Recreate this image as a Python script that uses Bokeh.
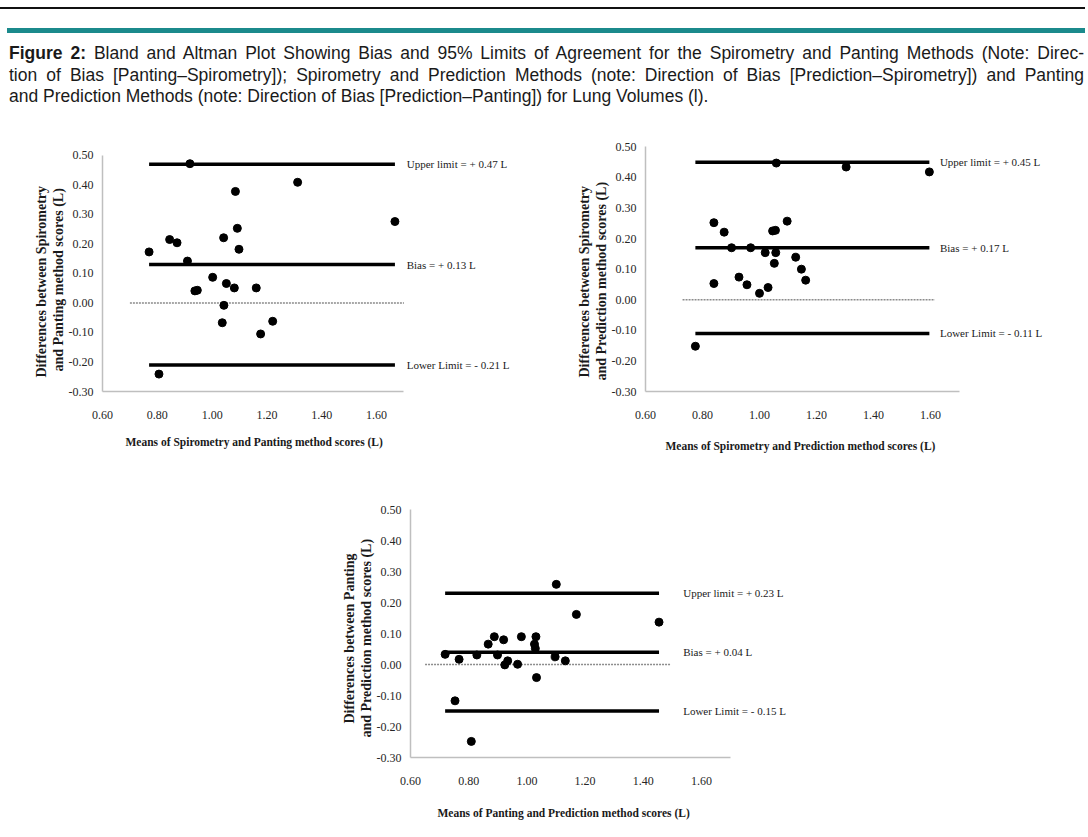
from bokeh.plotting import figure
from bokeh.layouts import column, row
from bokeh.models import (Range1d, FixedTicker, NumeralTickFormatter, ColumnDataSource, Div,
                          Spacer, Title)
from bokeh.core.properties import value
from bokeh.embed import file_html
from bokeh.resources import INLINE

# ---------------- data ----------------
x_ticks = [0.6, 0.8, 1.0, 1.2, 1.4, 1.6]
y_ticks = [-0.3, -0.2, -0.1, 0.0, 0.1, 0.2, 0.3, 0.4, 0.5]

# Spirometry vs Panting
sp_pan_mean = [0.77, 0.845, 0.872, 0.91, 0.919, 0.937, 0.946, 1.002, 1.042, 1.043, 1.037,
               1.052, 1.081, 1.085, 1.092, 1.098, 1.161, 1.177, 1.221, 1.312, 1.667, 0.806]
sp_pan_diff = [0.173, 0.215, 0.204, 0.142, 0.472, 0.041, 0.043, 0.087, 0.221, -0.008, -0.067,
               0.066, 0.051, 0.378, 0.253, 0.182, 0.051, -0.105, -0.062, 0.409, 0.276, -0.241]
sp_pan_bias, sp_pan_upper, sp_pan_lower = 0.13, 0.47, -0.21

# Spirometry vs Prediction
sp_pre_mean = [0.84, 0.876, 0.902, 0.969, 0.84, 0.928, 0.956, 1.0, 1.02, 1.03, 1.046,
               1.056, 1.057, 1.052, 1.059, 1.097, 1.127, 1.147, 1.162, 1.304, 1.596, 0.775]
sp_pre_diff = [0.252, 0.221, 0.17, 0.17, 0.053, 0.074, 0.049, 0.021, 0.154, 0.04, 0.225,
               0.227, 0.154, 0.119, 0.447, 0.257, 0.139, 0.1, 0.064, 0.434, 0.418, -0.152]
sp_pre_bias, sp_pre_upper, sp_pre_lower = 0.17, 0.45, -0.11

# Panting vs Prediction
pan_pre_mean = [0.719, 0.767, 0.828, 0.867, 0.888, 0.899, 0.92, 0.924, 0.934, 0.968, 0.981,
                1.031, 1.026, 1.029, 1.033, 1.097, 1.132, 0.753, 1.101, 1.17, 1.454, 0.809]
pan_pre_diff = [0.033, 0.017, 0.031, 0.066, 0.09, 0.031, 0.08, -0.001, 0.012, 0.001, 0.09,
                0.09, 0.066, 0.052, -0.042, 0.025, 0.012, -0.117, 0.259, 0.162, 0.137, -0.248]
pan_pre_bias, pan_pre_upper, pan_pre_lower = 0.04, 0.23, -0.15

caption_lines = [
    "Bland and Altman Plot Showing Bias and 95% Limits of Agreement for the Spirometry and Panting Methods (Note: Direc-",
    "tion of Bias [Panting\u2013Spirometry]); Spirometry and Prediction Methods (note: Direction of Bias [Prediction\u2013Spirometry]) and Panting",
    "and Prediction Methods (note: Direction of Bias [Prediction\u2013Panting]) for Lung Volumes (l).",
]

SERIF = "Liberation Serif"


def make_chart(means, diffs, bias, upper, lower, xtitle, ytitles, width, height,
               mb_left, mb_right, mb_top, mb_bottom, x_end, y_end, label_x, zero_span,
               xt_offset, xt_gap, yt_offsets):
    p = figure(width=width, height=height, output_backend="svg", toolbar_location=None,
               x_range=Range1d(0.6, x_end), y_range=Range1d(-0.30, y_end),
               min_border_left=mb_left, min_border_right=mb_right,
               min_border_top=mb_top, min_border_bottom=mb_bottom)
    p.outline_line_color = None
    p.xgrid.visible = False
    p.ygrid.visible = False
    p.background_fill_color = "white"
    p.border_fill_color = "white"

    for ax, ticks in ((p.xaxis[0], x_ticks), (p.yaxis[0], y_ticks)):
        ax.ticker = FixedTicker(ticks=ticks)
        ax.formatter = NumeralTickFormatter(format="0.00")
        ax.axis_line_color = "#bfbfbf"
        ax.axis_line_width = 1.5
        ax.major_tick_out = 0
        ax.major_tick_in = 0
        ax.minor_tick_out = 0
        ax.minor_tick_in = 0
        ax.major_label_text_font = SERIF
        ax.major_label_text_font_size = "12px"
        ax.major_label_text_color = "#262626"
    p.xaxis.bounds = (0.6, 1.7)
    p.yaxis.bounds = (-0.3, 0.5)
    p.xaxis.major_label_standoff = 19
    p.yaxis.major_label_standoff = 9

    # x-axis title under the axis line: a blank spacer title, then the title itself
    p.add_layout(Title(text=" ", text_font_size="2px", standoff=xt_gap), "below")
    p.add_layout(Title(text=xtitle, align="left", offset=xt_offset, standoff=0,
                       text_font=SERIF, text_font_size="11.5px", text_font_style="bold",
                       text_color="#1a1a1a"), "below")
    # y-axis title, two lines (inner line added first)
    for txt, off in ((ytitles[1], yt_offsets[1]), (ytitles[0], yt_offsets[0])):
        p.add_layout(Title(text=txt, align="left", offset=off, standoff=0,
                           text_font=SERIF, text_font_size="14px", text_font_style="bold",
                           text_line_height=1.0, text_color="#1a1a1a"), "left")

    # zero reference line
    p.segment(x0=[zero_span[0]], x1=[zero_span[1]], y0=[0.0], y1=[0.0],
              line_color="#8c8c8c", line_width=1.6, line_dash="2 1")

    # bias and limits of agreement
    xmin, xmax = min(means), max(means)
    levels = [upper, bias, lower]
    p.segment(x0=[xmin] * 3, x1=[xmax] * 3, y0=levels, y1=levels,
              line_color="black", line_width=3.5)

    p.scatter(x=means, y=diffs, size=8, marker="circle", fill_color="black", line_color="black")

    labels = [f"Upper limit = + {upper:.2f} L",
              f"Bias = + {bias:.2f} L",
              f"Lower Limit = - {abs(lower):.2f} L"]
    src = ColumnDataSource(dict(x=[label_x] * 3, y=levels, t=labels))
    p.text(x="x", y="y", text="t", source=src, text_font=value(SERIF),
           text_font_size="11px", text_baseline="middle", text_align="left",
           text_color="#1a1a1a")
    return p


p1 = make_chart(sp_pan_mean, sp_pan_diff, sp_pan_bias, sp_pan_upper, sp_pan_lower,
                "Means of Spirometry and Panting method scores (L)",
                ("Differences between  Spirometry", "and Panting method scores (L)"),
                width=560, height=333, mb_left=102, mb_right=48, mb_top=17, mb_bottom=64,
                x_end=2.096, y_end=0.554, label_x=1.71, zero_span=(0.70, 1.70),
                xt_offset=23, xt_gap=8, yt_offsets=(14, 20))

p2 = make_chart(sp_pre_mean, sp_pre_diff, sp_pre_bias, sp_pre_upper, sp_pre_lower,
                "Means of Spirometry and Prediction method scores (L)",
                ("Differences between  Spirometry", "and Prediction method  scores (L)"),
                width=512, height=333, mb_left=85, mb_right=20, mb_top=17, mb_bottom=64,
                x_end=2.028, y_end=0.524, label_x=1.633, zero_span=(0.73, 1.615),
                xt_offset=20, xt_gap=12, yt_offsets=(14, 11))

p3 = make_chart(pan_pre_mean, pan_pre_diff, pan_pre_bias, pan_pre_upper, pan_pre_lower,
                "Means of Panting and Prediction method  scores (L)",
                ("Differences between  Panting", "and Prediction method  scores (L)"),
                width=522, height=368, mb_left=110, mb_right=20, mb_top=48, mb_bottom=66,
                x_end=1.947, y_end=0.52, label_x=1.537, zero_span=(0.65, 1.494),
                xt_offset=27, xt_gap=13, yt_offsets=(34, 20))

line_style = "text-align:justify;text-align-last:justify;white-space:nowrap;"
header_html = f"""
<div style="position:relative;width:1072px;height:112px;font-family:'Liberation Sans',Arial,sans-serif;">
  <div style="position:absolute;left:-8px;top:2px;width:1088px;height:1.5px;background:#111;"></div>
  <div style="position:absolute;left:2px;top:23px;width:1078px;height:5px;background:#1b8a8c;"></div>
  <div style="position:absolute;left:4px;top:38px;width:1075px;font-size:17.5px;line-height:21.5px;color:#1a1a1a;">
    <div style="{line_style}"><b>Figure 2:</b> {caption_lines[0]}</div>
    <div style="{line_style}">{caption_lines[1]}</div>
    <div style="white-space:nowrap;">{caption_lines[2]}</div>
  </div>
</div>
"""
header = Div(text=header_html, width=1072, height=112)

layout = column(header, row(p1, p2), row(Spacer(width=300, height=368), p3))

open("out.html", "w").write(file_html(layout, INLINE))
